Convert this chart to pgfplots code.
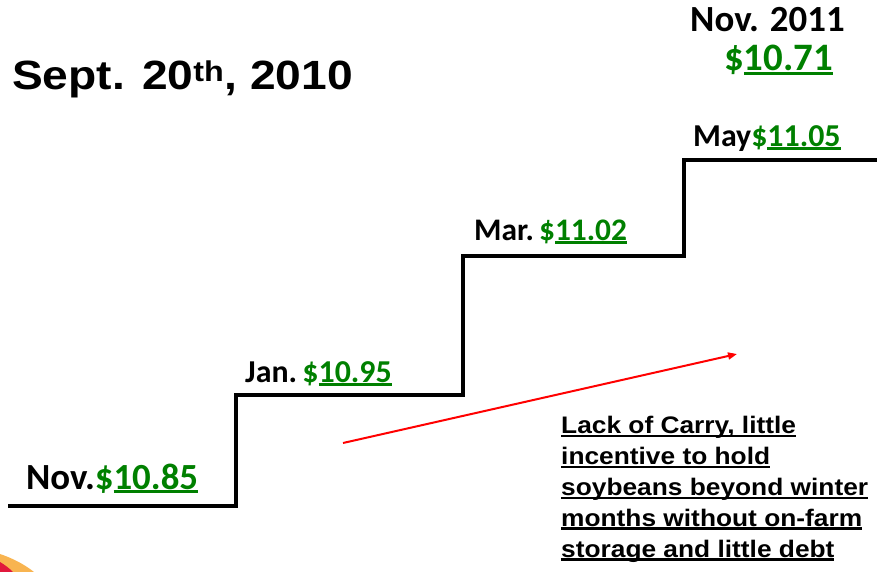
\documentclass[border=0pt]{standalone}
\usepackage{pgfplots}
\pgfplotsset{compat=1.18}
\usepackage{fontspec}
\setmainfont{Carlito}
\newfontfamily\arialt[FakeStretch=1.13]{Liberation Sans Bold}
\newfontfamily\arialn[FakeStretch=1.1]{Liberation Sans Bold}
\usetikzlibrary{arrows.meta}
\definecolor{pgreen}{RGB}{0,128,0}
\definecolor{swred}{RGB}{225,25,60}
\definecolor{sworange}{RGB}{248,180,80}
\newcommand\ul[3]{\setbox0\hbox{#1}\rlap{\rule[-#2bp]{\wd0}{#3bp}}\box0}
\begin{document}
\begin{tikzpicture}
\begin{axis}[
  scale only axis, width=877bp, height=572bp,
  xmin=0, xmax=877, ymin=0, ymax=572, y dir=reverse,
  hide axis, clip=false,
]
\coordinate (SW) at (rel axis cs:0,0);
\coordinate (NE) at (rel axis cs:1,1);
% decorative swoosh
\fill[sworange] (axis cs:0,554) .. controls (axis cs:12,558) and (axis cs:24,564) .. (axis cs:34,572) -- (axis cs:0,572) -- cycle;
\fill[swred] (axis cs:0,562) .. controls (axis cs:5,565) and (axis cs:9,568) .. (axis cs:13,572) -- (axis cs:0,572) -- cycle;
% staircase
\addplot[const plot, black, line width=4bp, mark=none] coordinates {
 (8,506) (236,395) (463,256) (684,160) (877,160)};
% arrow
\addplot[red, line width=2bp, mark=none, -{Triangle[length=9bp,width=7bp]}] coordinates {(343,443) (737,354)};
% labels
\node[anchor=base west, inner sep=0] at (axis cs:26,489) {\fontsize{37}{40}\selectfont\bfseries Nov.\textcolor{pgreen}{\$\ul{10.85}{4}{3}}};
\node[anchor=base west, inner sep=0] at (axis cs:245,382) {\fontsize{32}{38}\selectfont\bfseries Jan.\,\textcolor{pgreen}{\$\ul{10.95}{4}{3}}};
\node[anchor=base west, inner sep=0] at (axis cs:474,240) {\fontsize{31.5}{36}\selectfont\bfseries Mar.\,\textcolor{pgreen}{\$\ul{11.02}{4}{3}}};
\node[anchor=base west, inner sep=0] at (axis cs:693,146) {\fontsize{32}{36}\selectfont\bfseries May\textcolor{pgreen}{\$\ul{11.05}{4}{3}}};
\node[anchor=base west, inner sep=0] at (axis cs:690,32) {\fontsize{37}{40}\selectfont\bfseries Nov. 2011};
\node[anchor=base west, inner sep=0] at (axis cs:724,71) {\fontsize{39}{42}\selectfont\bfseries\textcolor{pgreen}{\$\ul{10.71}{4}{3}}};
\node[anchor=base west, inner sep=0] at (axis cs:12,90) {\arialt\fontsize{41}{46}\selectfont Sept. 20\textsuperscript{th}, 2010};
\node[anchor=base west, inner sep=0, align=left, font={\arialn\fontsize{24}{31}\selectfont}] at (axis cs:561,557) {%
 \ul{Lack of Carry, little}{3.5}{2.2}\\
 \ul{incentive to hold}{3.5}{2.2}\\
 \ul{soybeans beyond winter}{3.5}{2.2}\\
 \ul{months without on-farm}{3.5}{2.2}\\
 \ul{storage and little debt}{3.5}{2.2}};
\end{axis}
\pgfresetboundingbox
\path (SW) rectangle (NE);
\end{tikzpicture}
\end{document}
